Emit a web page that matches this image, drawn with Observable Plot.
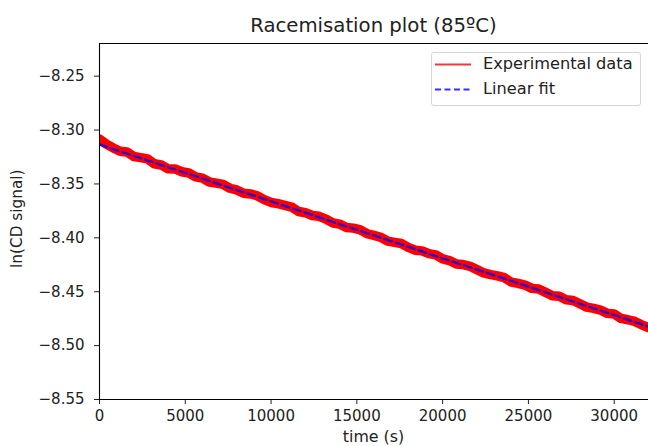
<!DOCTYPE html>
<html>
<head>
<meta charset="utf-8">
<script src="https://cdn.jsdelivr.net/npm/d3@7"></script>
<script src="https://cdn.jsdelivr.net/npm/@observablehq/plot@0.6"></script>
<style>
  html, body { margin: 0; padding: 0; background: #fff; }
  #wrap { position: relative; width: 648px; height: 446px; overflow: hidden; font-family: "DejaVu Sans", sans-serif; color: #222; }
  #wrap svg { position: absolute; left: 0; top: 0; }
  .abs { position: absolute; white-space: nowrap; }
</style>
</head>
<body>
<div id="wrap"></div>
<script>
// ---- data ----
const title = "Racemisation plot (85ºC)";
const xLabel = "time (s)";
const yLabel = "ln(CD signal)";
const seriesNames = ["Experimental data", "Linear fit"];

const expTime = [0,400,800,1200,1600,2000,2400,2800,3200,3600,4000,4400,4800,5200,5600,6000,6400,6800,7200,7600,
  8000,8400,8800,9200,9600,10000,10400,10800,11200,11600,12000,12400,12800,13200,13600,14000,14400,14800,15200,15600,
  16000,16400,16800,17200,17600,18000,18400,18800,19200,19600,20000,20400,20800,21200,21600,22000,22400,22800,23200,23600,
  24000,24400,24800,25200,25600,26000,26400,26800,27200,27600,28000,28400,28800,29200,29600,30000,30400,30800,31200,31600,32000];
const expSignal = [-8.3084,-8.3130,-8.3166,-8.3197,-8.3203,-8.3245,-8.3256,-8.3267,-8.3313,-8.3324,
  -8.3360,-8.3361,-8.3387,-8.3398,-8.3435,-8.3446,-8.3482,-8.3493,-8.3504,-8.3540,
  -8.3556,-8.3587,-8.3593,-8.3610,-8.3646,-8.3672,-8.3683,-8.3699,-8.3715,-8.3756,
  -8.3767,-8.3793,-8.3800,-8.3826,-8.3862,-8.3873,-8.3904,-8.3910,-8.3926,-8.3962,
  -8.3978,-8.3995,-8.4031,-8.4042,-8.4053,-8.4089,-8.4115,-8.4121,-8.4147,-8.4158,
  -8.4195,-8.4211,-8.4242,-8.4248,-8.4264,-8.4295,-8.4326,-8.4342,-8.4353,-8.4370,
  -8.4411,-8.4422,-8.4438,-8.4469,-8.4475,-8.4506,-8.4537,-8.4543,-8.4575,-8.4581,
  -8.4612,-8.4643,-8.4654,-8.4670,-8.4701,-8.4707,-8.4748,-8.4760,-8.4776,-8.4807,-8.4833];

const fitTime = [0, 32000];
const fitSignal = [-8.3134, -8.4823];

const xDomain = [0, 32000];
const yDomain = [-8.55, -8.2197];
const xTicks = [0, 5000, 10000, 15000, 20000, 25000, 30000];
const yTicks = [-8.55, -8.50, -8.45, -8.40, -8.35, -8.30, -8.25];

// ---- build tables ----
const expData = expTime.map((t, i) => ({t, v: expSignal[i]}));
const fitData = fitTime.map((t, i) => ({t, v: fitSignal[i]}));

const fmtY = d3.format(".2f");

const chart = Plot.plot({
  width: 648,
  height: 446,
  marginLeft: 99,
  marginRight: 0,
  marginTop: 43,
  marginBottom: 47,
  style: {fontFamily: "DejaVu Sans, sans-serif", fontSize: "15px", color: "#222", background: "white"},
  x: {domain: xDomain, ticks: xTicks, tickFormat: d => String(d), tickSize: 5, tickPadding: 6, label: null},
  y: {domain: yDomain, ticks: yTicks, tickFormat: d => fmtY(d), tickSize: 5, tickPadding: 10, label: null},
  marks: [
    Plot.line(expData, {x: "t", y: "v", stroke: "#ff0000", strokeWidth: 9.5, strokeLinejoin: "round", clip: true}),
    Plot.line(fitData, {x: "t", y: "v", stroke: "#0000ff", strokeOpacity: 0.8, strokeWidth: 2.4, strokeDasharray: "8,4", clip: true}),
    Plot.ruleX([xDomain[0]], {stroke: "#000", strokeWidth: 1.1}),
    Plot.ruleY([yDomain[0]], {stroke: "#000", strokeWidth: 1.1}),
    Plot.ruleY([yDomain[1]], {stroke: "#000", strokeWidth: 1.1})
  ]
});

const wrap = document.getElementById("wrap");
wrap.appendChild(chart);

function addDiv(text, css) {
  const d = document.createElement("div");
  d.className = "abs";
  d.textContent = text;
  Object.assign(d.style, css);
  wrap.appendChild(d);
  return d;
}

// title
addDiv(title, {left: "99px", width: "549px", top: "16.3px", fontSize: "19.7px", lineHeight: "19.7px", textAlign: "center"});
// x label
addDiv(xLabel, {left: "99px", width: "549px", top: "428.6px", fontSize: "15.8px", lineHeight: "15.8px", textAlign: "center"});
// y label
addDiv(yLabel, {left: "-132px", width: "300px", top: "210.8px", height: "15.3px", fontSize: "15.3px", lineHeight: "15.3px",
  textAlign: "center", transform: "rotate(-90deg)", transformOrigin: "50% 50%"});

// legend
const box = document.createElement("div");
box.className = "abs";
Object.assign(box.style, {left: "431px", top: "52px", width: "208px", height: "52px", border: "1px solid #d6d6d6",
  borderRadius: "3px", background: "rgba(255,255,255,0.8)"});
wrap.appendChild(box);

const NS = "http://www.w3.org/2000/svg";
const sw = document.createElementNS(NS, "svg");
sw.setAttribute("width", "648");
sw.setAttribute("height", "446");
sw.style.pointerEvents = "none";
const swatches = [
  {y: 64.5, stroke: "#ff0000", opacity: 0.8, dash: null},
  {y: 89.5, stroke: "#0000ff", opacity: 0.8, dash: "6,3.5"}
];
swatches.forEach(s => {
  const l = document.createElementNS(NS, "line");
  l.setAttribute("x1", 435); l.setAttribute("x2", 471);
  l.setAttribute("y1", s.y); l.setAttribute("y2", s.y);
  l.setAttribute("stroke", s.stroke);
  l.setAttribute("stroke-opacity", s.opacity);
  l.setAttribute("stroke-width", 2.2);
  if (s.dash) l.setAttribute("stroke-dasharray", s.dash);
  sw.appendChild(l);
});
wrap.appendChild(sw);

addDiv(seriesNames[0], {left: "483px", top: "55.6px", fontSize: "16.2px", lineHeight: "16.2px"});
addDiv(seriesNames[1], {left: "483px", top: "81.3px", fontSize: "16.2px", lineHeight: "16.2px"});
</script>
</body>
</html>
